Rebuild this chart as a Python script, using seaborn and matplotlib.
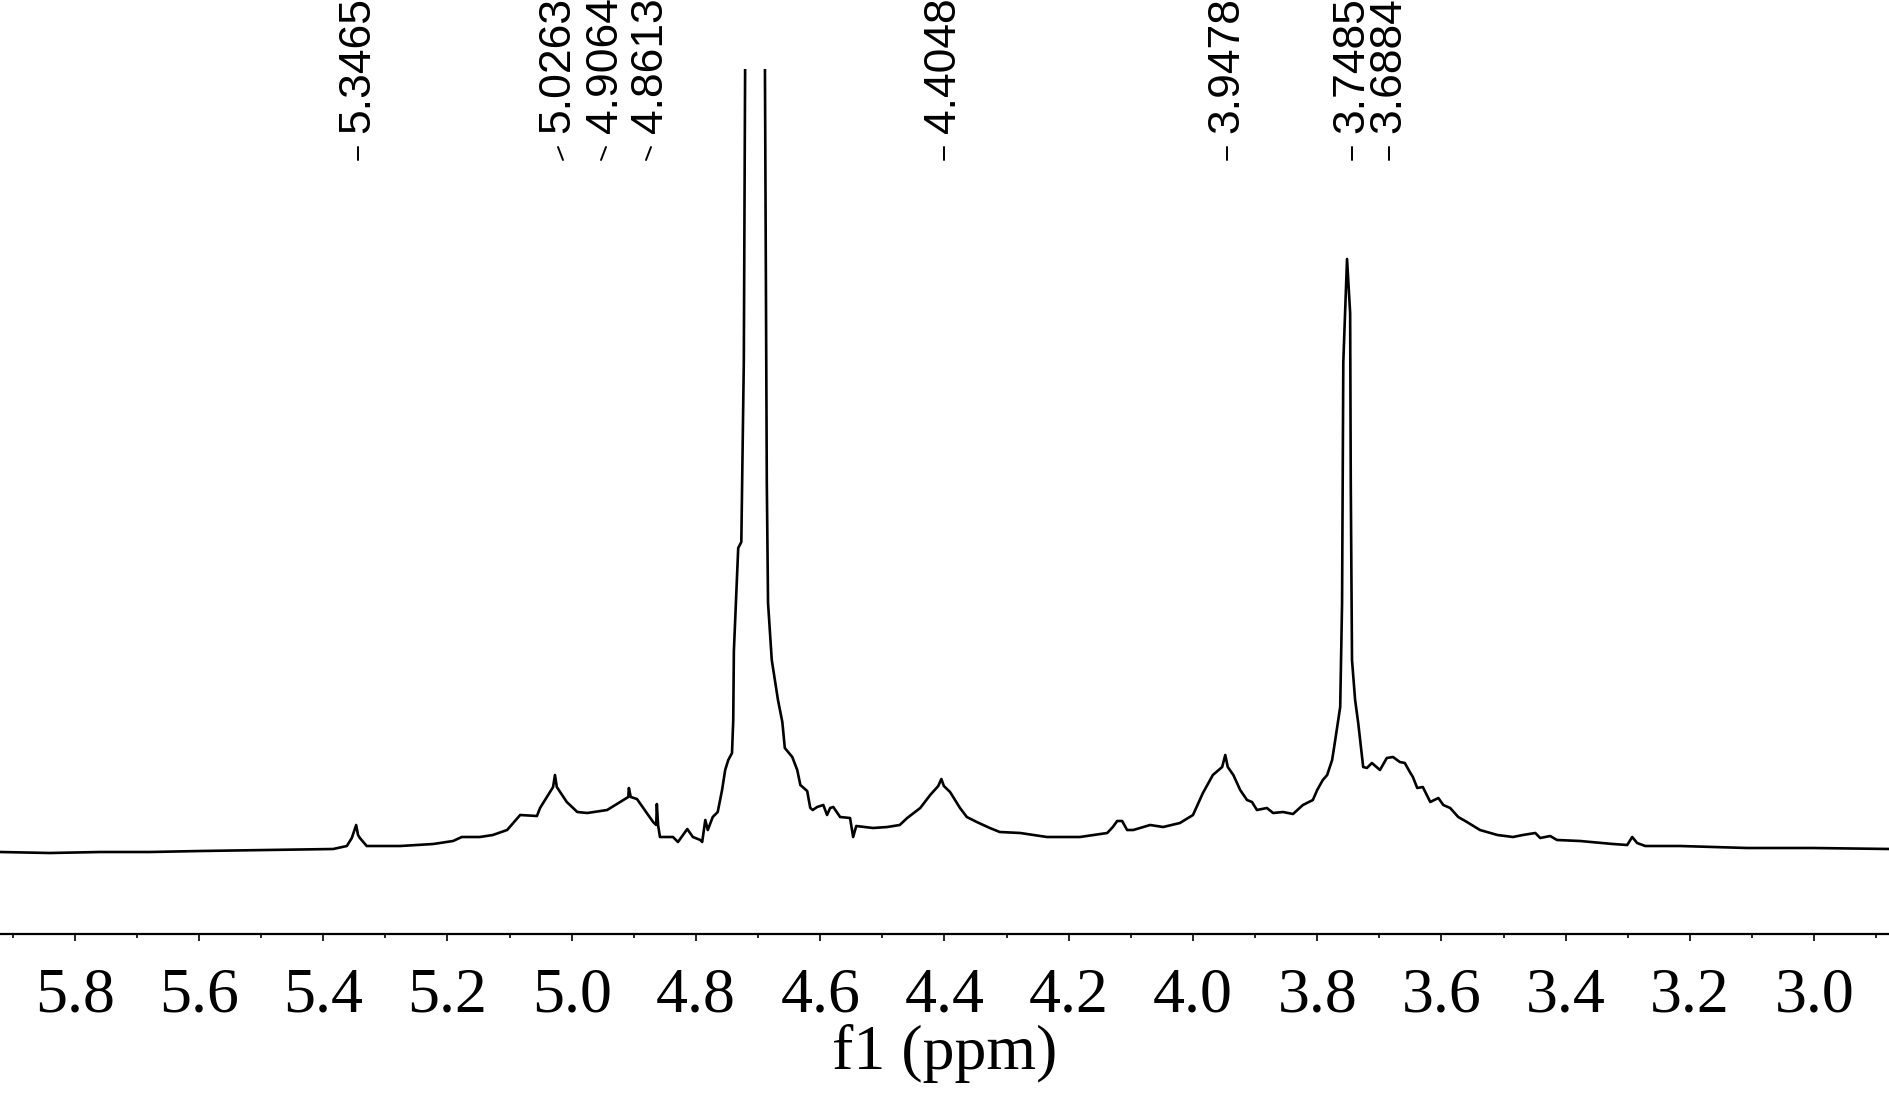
import matplotlib
matplotlib.use("Agg")
import matplotlib.pyplot as plt
import numpy as np
import pandas as pd
import seaborn as sns
from matplotlib.lines import Line2D

# chemical shift (ppm) and intensity (arb. units, baseline ~ 0)
ppm = [
    5.920, 5.840, 5.759, 5.679, 5.598, 5.491, 5.384, 5.362, 5.354, 5.347,
    5.344, 5.341, 5.330, 5.276, 5.223, 5.191, 5.177, 5.148, 5.127, 5.104,
    5.083, 5.056, 5.051, 5.030, 5.027, 5.024, 5.008, 4.991, 4.975, 4.943,
    4.922, 4.909, 4.908, 4.905, 4.895, 4.869, 4.864, 4.863, 4.861, 4.858,
    4.837, 4.829, 4.814, 4.805, 4.793, 4.790, 4.785, 4.781, 4.773, 4.765,
    4.758, 4.753, 4.748, 4.742, 4.740, 4.739, 4.732, 4.727, 4.723, 4.705,
    4.686, 4.684, 4.678, 4.668, 4.661, 4.657, 4.645, 4.637, 4.632, 4.621,
    4.616, 4.612, 4.605, 4.595, 4.589, 4.584, 4.579, 4.568, 4.552, 4.547,
    4.542, 4.515, 4.492, 4.472, 4.460, 4.439, 4.423, 4.410, 4.405, 4.401,
    4.391, 4.375, 4.364, 4.348, 4.327, 4.311, 4.278, 4.235, 4.182, 4.138,
    4.129, 4.122, 4.114, 4.106, 4.096, 4.069, 4.048, 4.021, 4.000, 3.984,
    3.968, 3.953, 3.948, 3.944, 3.935, 3.924, 3.913, 3.905, 3.897, 3.881,
    3.871, 3.855, 3.839, 3.823, 3.807, 3.800, 3.791, 3.784, 3.776, 3.771,
    3.763, 3.760, 3.758, 3.752, 3.747, 3.746, 3.744, 3.739, 3.734, 3.726,
    3.720, 3.712, 3.699, 3.688, 3.678, 3.667, 3.659, 3.650, 3.646, 3.639,
    3.630, 3.618, 3.605, 3.597, 3.586, 3.573, 3.559, 3.538, 3.510, 3.485,
    3.469, 3.449, 3.441, 3.425, 3.414, 3.377, 3.324, 3.301, 3.293, 3.285,
    3.272, 3.216, 3.108, 3.002, 2.878,
]
intensity = [
    0, -1, 0, 0, 1, 2, 3, 6, 14, 27,
    17, 14, 6, 6, 8, 11, 15, 15, 17, 22,
    37, 36, 44, 65, 77, 65, 50, 40, 39, 42,
    50, 55, 64, 55, 53, 30, 27, 48, 27, 15,
    15, 10, 23, 15, 12, 10, 32, 22, 35, 40,
    62, 82, 92, 99, 132, 201, 304, 310, 490, 3000,
    370, 249, 192, 152, 130, 104, 95, 82, 67, 61,
    44, 42, 45, 47, 37, 44, 45, 35, 34, 15,
    26, 24, 25, 27, 34, 44, 57, 66, 73, 66,
    60, 44, 35, 30, 24, 20, 19, 15, 15, 19,
    25, 31, 31, 22, 22, 27, 25, 29, 37, 59,
    77, 85, 97, 85, 77, 62, 52, 50, 42, 44,
    39, 40, 38, 47, 52, 62, 72, 77, 92, 112,
    145, 249, 490, 593, 539, 370, 192, 152, 129, 85,
    84, 89, 82, 94, 95, 90, 89, 79, 75, 64,
    65, 50, 54, 47, 44, 35, 30, 22, 17, 15,
    17, 19, 14, 16, 12, 11, 8, 7, 15, 9,
    6, 6, 4, 4, 3,
]

peak_labels = ["5.3465", "5.0263", "4.9064", "4.8613",
               "4.4048", "3.9478", "3.7485", "3.6884"]
# horizontal position of each rotated label (figure pixels) and leader shape
label_x = [358, 558, 606, 651, 944, 1227, 1352, 1389]
leader_dx = [0, 5, -5, -5, 0, 0, 0, 0]

tick_values = [5.8, 5.6, 5.4, 5.2, 5.0, 4.8, 4.6, 4.4, 4.2, 4.0, 3.8, 3.6, 3.4, 3.2, 3.0]

W, H = 1890, 1117

sns.set_style("white")
plt.rcParams["font.family"] = ["Liberation Serif", "DejaVu Serif"]

fig = plt.figure(figsize=(W / 100, H / 100), dpi=100)
ax = fig.add_axes([0, 183 / H, 1, (934 - 69) / H])

spec = pd.DataFrame({"ppm": ppm, "intensity": intensity})
sns.lineplot(data=spec, x="ppm", y="intensity", ax=ax, color="black",
             linewidth=1.9, sort=False, estimator=None)

ax.set_xlim(5.9203, 2.878)
ax.set_ylim(-82, 783)
ax.set_xticks(tick_values)
ax.set_xticklabels([f"{v:.1f}" for v in tick_values])
ax.set_xticks(np.arange(2.9, 6.0, 0.2), minor=True)
ax.set_yticks([])
ax.set_ylabel("")
ax.set_xlabel("f1 (ppm)", fontsize=46, labelpad=-1, color="black")

for side in ["left", "right", "top"]:
    ax.spines[side].set_visible(False)
ax.spines["bottom"].set_linewidth(1.6)
ax.spines["bottom"].set_color("black")
ax.tick_params(axis="x", which="major", direction="out", length=5, width=1.2,
               labelsize=46, pad=19, bottom=True, colors="black")
ax.tick_params(axis="x", which="minor", direction="out", length=3, width=1.2,
               bottom=True, colors="black")

# peak annotations along the top
for lab, xp, dx in zip(peak_labels, label_x, leader_dx):
    fig.text(xp / W, (H - 133) / H, lab, rotation=90, ha="center", va="bottom",
             fontsize=32, family=["Liberation Sans", "DejaVu Sans"], color="black")
    fig.add_artist(Line2D([xp / W, (xp + dx) / W], [(H - 147) / H, (H - 160) / H],
                          color="black", linewidth=1.4))

fig.savefig("out.png", dpi=100)
